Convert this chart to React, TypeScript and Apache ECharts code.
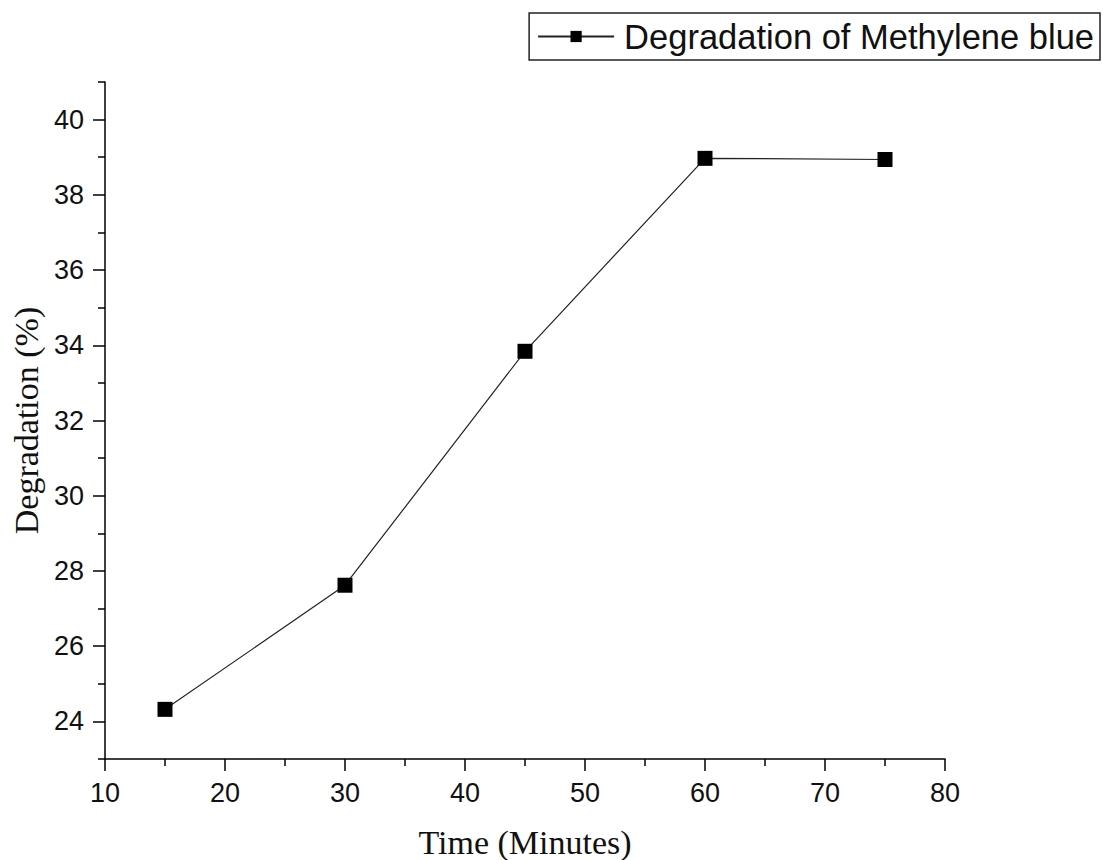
import React, { useEffect, useRef } from "react";
import * as echarts from "echarts";

const timeMinutes = [15, 30, 45, 60, 75];
const degradation = [24.32, 27.62, 33.84, 38.97, 38.94];
const xTicks = [10, 20, 30, 40, 50, 60, 70, 80];
const yMajor = [24, 26, 28, 30, 32, 34, 36, 38, 40];
const yMinor = [23, 25, 27, 29, 31, 33, 35, 37, 39, 41];
const seriesName = "Degradation of Methylene blue";

export default function App() {
  const ref = useRef<HTMLDivElement>(null);
  useEffect(() => {
    const chart = echarts.init(ref.current!, undefined, { renderer: "svg" });
    const axisColor = "#000";
    chart.setOption({
      animation: false,
      backgroundColor: "#fff",
      grid: { left: 105, right: 158, top: 82, bottom: 101, containLabel: false, outerBoundsMode: "none" },
      legend: {
        data: [seriesName],
        right: 3,
        top: 13,
        orient: "horizontal",
        borderColor: "#222",
        borderWidth: 1.5,
        padding: [6, 6, 6, 8],
        itemWidth: 76,
        itemHeight: 14,
        textStyle: { fontFamily: "Arial, Liberation Sans", fontSize: 34.5, color: "#111", padding: [0, 0, 0, 5] },
      },
      xAxis: {
        type: "value",
        min: xTicks[0],
        max: xTicks[xTicks.length - 1],
        interval: 10,
        name: "Time (Minutes)",
        nameLocation: "middle",
        nameGap: 66,
        nameTextStyle: { fontFamily: "Liberation Serif, Times New Roman", fontSize: 34, color: "#111" },
        axisLine: { show: true, lineStyle: { color: axisColor, width: 1.5 } },
        axisTick: { show: true, inside: false, length: 12, lineStyle: { color: axisColor, width: 1.5 } },
        minorTick: { show: true, splitNumber: 2, length: 7, lineStyle: { color: axisColor, width: 1.5 } },
        splitLine: { show: false },
        minorSplitLine: { show: false },
        axisLabel: { fontFamily: "Arial, Liberation Sans", fontSize: 27, color: "#111", margin: 20 },
      },
      yAxis: [
        {
          type: "value",
          min: 23,
          max: 41,
          interval: 1,
          name: "Degradation (%)",
          nameLocation: "middle",
          nameGap: 60,
          nameTextStyle: { fontFamily: "Liberation Serif, Times New Roman", fontSize: 34, color: "#111" },
          axisLine: { show: true, lineStyle: { color: axisColor, width: 1.5 } },
          axisTick: { show: true, inside: false, length: 12, customValues: yMajor, lineStyle: { color: axisColor, width: 1.5 } },
          splitLine: { show: false },
          axisLabel: { fontFamily: "Arial, Liberation Sans", fontSize: 27, color: "#111", margin: 21, customValues: yMajor },
        },
        {
          type: "value",
          position: "left",
          min: 23,
          max: 41,
          interval: 1,
          axisLine: { show: false },
          axisTick: { show: true, inside: false, length: 7, customValues: yMinor, lineStyle: { color: axisColor, width: 1.5 } },
          splitLine: { show: false },
          axisLabel: { show: false },
        },
      ],
      series: [
        {
          name: seriesName,
          type: "line",
          data: timeMinutes.map((t, i) => [t, degradation[i]]),
          symbol: "rect",
          symbolSize: 15,
          itemStyle: { color: "#000" },
          lineStyle: { color: "#222", width: 1.2 },
        },
      ],
    });
    return () => chart.dispose();
  }, []);
  return <div ref={ref} style={{ position: "absolute", left: 0, top: 0, width: 1103, height: 860 }} />;
}
